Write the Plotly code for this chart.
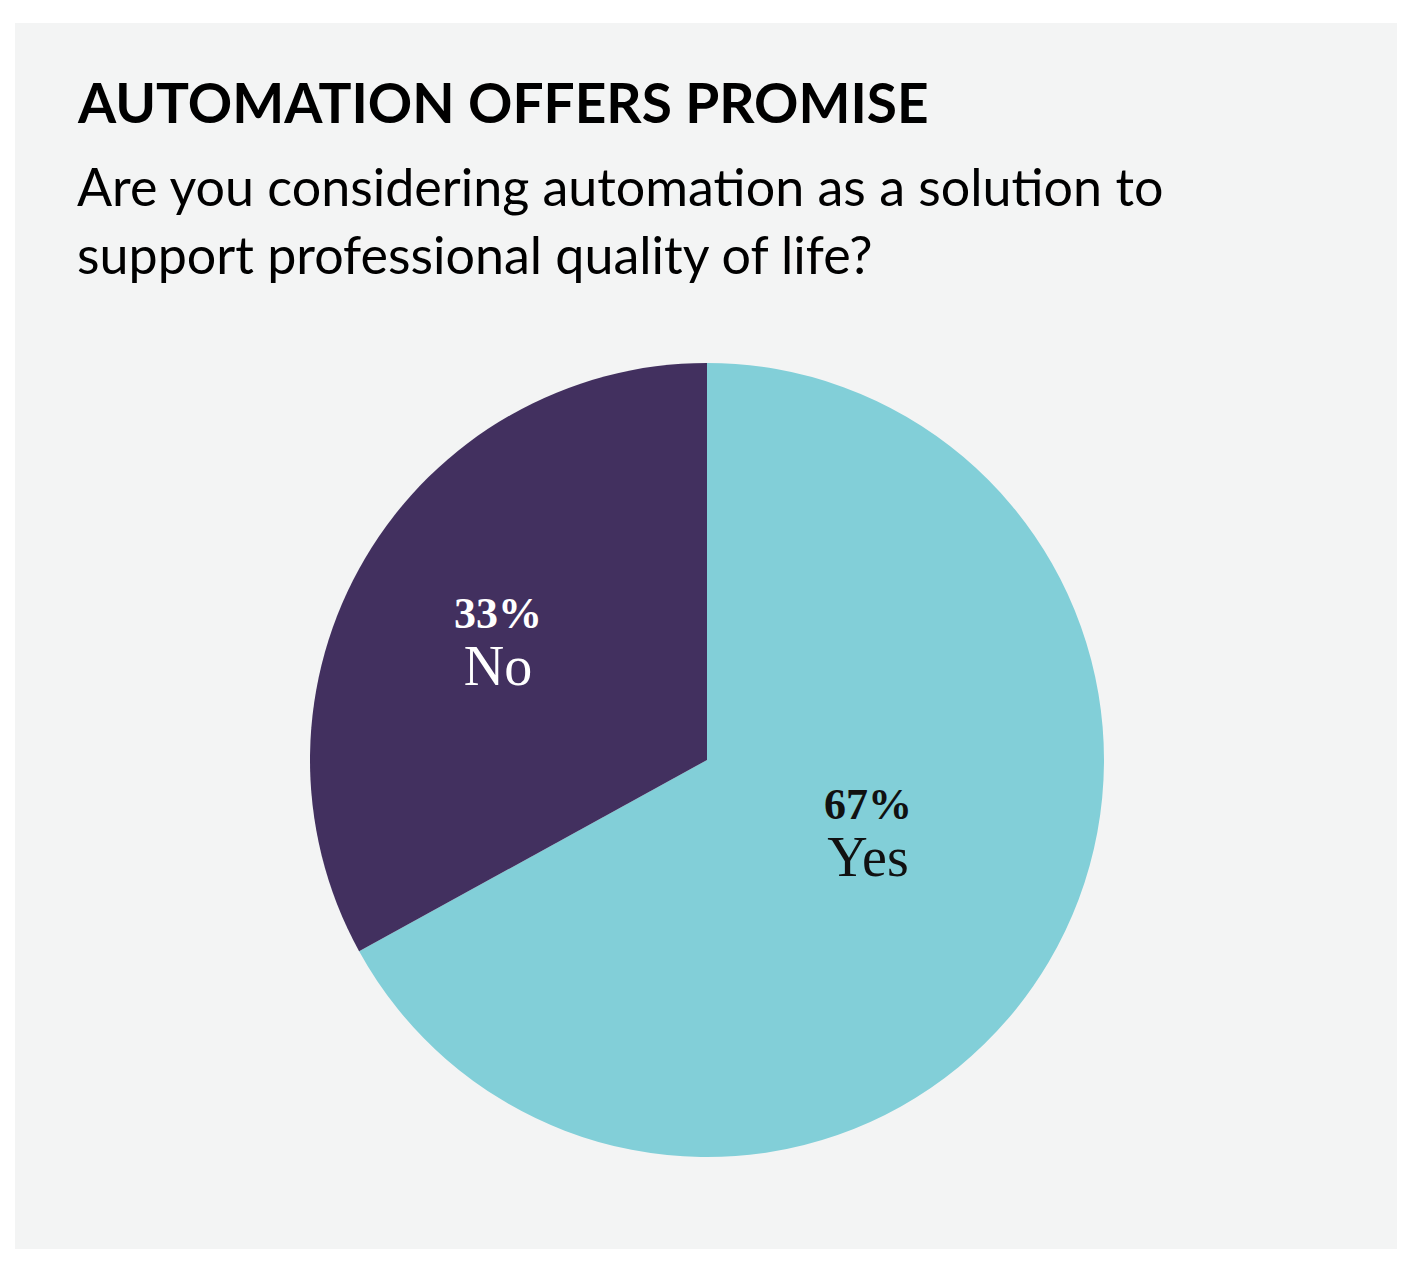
import plotly.graph_objects as go

# ---- data ----
labels = ["Yes", "No"]
values = [67, 33]
slice_colors = ["#82cfd8", "#42305f"]
label_text_colors = ["#111111", "#ffffff"]

title_text = "AUTOMATION OFFERS PROMISE"
subtitle_text = "Are you considering automation as a solution to<br>support professional quality of life?"

W, H = 1412, 1266
OFF = 8  # browser default body margin

def px(x):
    return (x - OFF) / W

def py(y):
    return 1 - (y - OFF) / H

# pie placement (pixels in screenshot)
cx, cy, R = 707, 760, 397
# label block centres (pixels in screenshot), one per slice
label_pos = [(868, 834), (498, 643)]

fig = go.Figure()
fig.add_trace(go.Pie(
    labels=labels,
    values=values,
    sort=False,
    direction="clockwise",
    rotation=0,
    marker=dict(colors=slice_colors, line=dict(width=0)),
    textinfo="none",
    hoverinfo="label+percent",
    showlegend=False,
    domain=dict(x=[px(cx - R), px(cx + R)], y=[py(cy + R), py(cy - R)]),
))

total = sum(values)
for lab, val, col, (lx, ly) in zip(labels, values, label_text_colors, label_pos):
    pct = round(100 * val / total)
    fig.add_annotation(
        text=f"<b>{pct}%</b><br><span style='font-size:56px'>{lab}</span>",
        xref="paper", yref="paper", x=px(lx), y=py(ly),
        xanchor="center", yanchor="middle", showarrow=False, align="center",
        font=dict(family="Liberation Serif", size=44, color=col),
    )

fig.add_shape(type="rect", xref="paper", yref="paper",
              x0=px(15), x1=px(1397), y0=py(1249), y1=py(23),
              fillcolor="#f3f4f4", line=dict(width=0), layer="below")

fig.add_annotation(text="<b>" + title_text + "</b>", xref="paper", yref="paper",
                   x=px(75), y=py(102), xanchor="left", yanchor="middle",
                   showarrow=False, align="left",
                   font=dict(family="Lato", size=55, color="#000000"))
fig.add_annotation(text=subtitle_text, xref="paper", yref="paper",
                   x=px(75), y=py(220), xanchor="left", yanchor="middle",
                   showarrow=False, align="left",
                   font=dict(family="Lato", size=52, color="#000000"))

fig.update_layout(
    width=W, height=H,
    margin=dict(l=0, r=0, t=0, b=0),
    paper_bgcolor="#ffffff",
    plot_bgcolor="#ffffff",
)

fig.write_html("out.html")
